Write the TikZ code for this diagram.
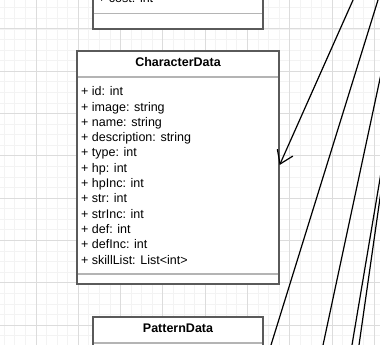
\documentclass[tikz,border=0pt]{standalone}
\usepackage{fontspec}
\setmainfont{Liberation Sans}
\usetikzlibrary{arrows.meta}

\definecolor{gridminor}{HTML}{F3F3F3}
\definecolor{gridmajor}{HTML}{DCDCDC}
\definecolor{boxline}{HTML}{5A5A5A}
\definecolor{sepline}{HTML}{B4B4B4}

\tikzset{
  umlbox/.style={draw=boxline, line width=1.6pt, fill=white, rectangle, inner sep=0pt},
  septhin/.style={draw=sepline, line width=1.4pt},
  attr/.style={anchor=base west, inner sep=0pt, font=\fontsize{12.5}{15}\selectfont},
  title/.style={anchor=base, inner sep=0pt, font=\fontsize{12.5}{15}\selectfont\bfseries},
  assoc/.style={draw=black, line width=1.2pt},
  opentip/.style={-{Straight Barb[length=12.5pt, width=17pt, line width=1.2pt]}},
}

\begin{document}
\begin{tikzpicture}[x=1pt, y=-1pt]
  \useasboundingbox (0,0) rectangle (380,345);
  \clip (0,0) rectangle (380,345);

  % page grid
  \fill[white] (0,0) rectangle (380,345);
  \foreach \k in {-4,...,33} {
    \pgfmathsetmacro{\gx}{36+\k*10.575}
    \draw[gridminor, line width=0.9pt] (\gx,0) -- (\gx,345);
  }
  \foreach \k in {-3,...,31} {
    \pgfmathsetmacro{\gy}{29+\k*10.575}
    \draw[gridminor, line width=0.9pt] (0,\gy) -- (380,\gy);
  }
  \foreach \k in {-1,...,8} {
    \pgfmathsetmacro{\gx}{36+\k*42.3}
    \draw[gridmajor, line width=1pt] (\gx,0) -- (\gx,345);
  }
  \foreach \k in {-1,...,8} {
    \pgfmathsetmacro{\gy}{29+\k*42.3}
    \draw[gridmajor, line width=1pt] (0,\gy) -- (380,\gy);
  }

  % class above CharacterData (only its last rows are in view)
  \node[umlbox, minimum width=170pt, minimum height=229.3pt] (prev) at (177.7,-85.35) {};
  \node[attr] (prevcost) at (98,2.5) {+ cost: int};
  \draw[septhin] (93.5,13.3) -- (261.9,13.3);

  % CharacterData
  \node[umlbox, minimum width=202pt, minimum height=233pt] (chr) at (178,167.5) {};
  \node[title] (chrtitle) at (178,66.7) {CharacterData};
  \draw[septhin] (77.8,77) -- (278.2,77);
  \foreach \t [count=\i from 0] in {%
      {+ id: int},{+ image: string},{+ name: string},{+ description: string},%
      {+ type: int},{+ hp: int},{+ hpInc: int},{+ str: int},{+ strInc: int},%
      {+ def: int},{+ defInc: int},{+ skillList: List<int>}} {
    \node[attr] (chrattr\i) at (81,{95.7+\i*15.3}) {\t};
  }
  \draw[septhin] (77.8,274) -- (278.2,274);

  % PatternData
  \node[umlbox, minimum width=170pt, minimum height=80pt] (pat) at (178,357) {};
  \node[title] (pattitle) at (178,332.3) {PatternData};
  \draw[septhin] (93.8,343) -- (262.2,343);

  % associations running in from the right
  \coordinate (srcA) at (357.5,-10);
  \coordinate (tipA) at (279.6,165);
  \coordinate (srcB) at (381.1,-10);
  \coordinate (endB) at (267.9,355);
  \coordinate (srcC) at (384,60);
  \coordinate (endC) at (320.9,355);
  \coordinate (srcD) at (384,155);
  \coordinate (endD) at (350.3,355);
  \coordinate (srcE) at (384,170);
  \coordinate (endE) at (357.6,355);

  \draw[assoc, opentip] (srcA) -- (tipA);
  \draw[assoc] (srcB) -- (endB);
  \draw[assoc] (srcC) -- (endC);
  \draw[assoc] (srcD) -- (endD);
  \draw[assoc] (srcE) -- (endE);
\end{tikzpicture}
\end{document}
